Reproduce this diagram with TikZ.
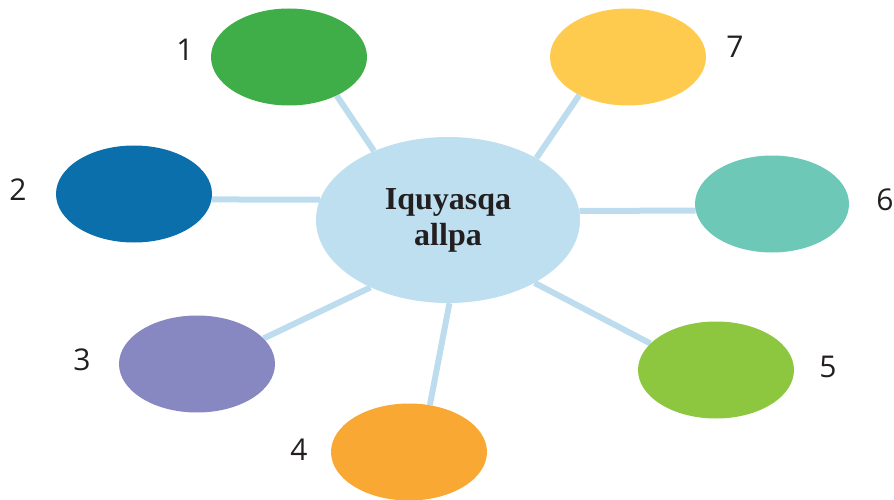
\documentclass[tikz,border=0pt]{standalone}
\usepackage{fontspec}
\setmainfont{Liberation Serif}
\newfontfamily\labelfont{Open Sans}
\usetikzlibrary{shapes.geometric,backgrounds}
\definecolor{cgreen}{HTML}{3FAE49}
\definecolor{cyellow}{HTML}{FFCB4F}
\definecolor{cblue}{HTML}{0A6FAA}
\definecolor{cteal}{HTML}{6EC8B8}
\definecolor{cpurple}{HTML}{8787C2}
\definecolor{clime}{HTML}{8DC63F}
\definecolor{corange}{HTML}{F9A833}
\definecolor{ccenter}{HTML}{BEDFF0}
\definecolor{cline}{HTML}{BDDDEE}
\definecolor{ctext}{HTML}{231F20}
\tikzset{
  petal/.style={ellipse, minimum width=156pt, minimum height=97pt, inner sep=0pt, draw=none},
  hub/.style={ellipse, fill=ccenter, minimum width=264pt, minimum height=166pt, inner sep=0pt, draw=none,
    font=\fontsize{32}{36}\selectfont\bfseries, text=ctext, align=center},
  num/.style={font=\labelfont\fontsize{30}{36}\selectfont, text=ctext, inner sep=0pt},
  link/.style={draw=cline, line width=6pt}
}
\begin{document}
\begin{tikzpicture}[x=1pt,y=-1pt]
\useasboundingbox (0,0) rectangle (894,500);
% nodes
\node[hub] (c) at (448,220) {Iquyasqa\\allpa};
\node[petal, fill=cgreen] (n1) at (289,57) {};
\node[petal, fill=cyellow] (n7) at (628,57) {};
\node[petal, fill=cblue] (n2) at (134,194) {};
\node[petal, fill=cteal, minimum width=154pt] (n6) at (772,204) {};
\node[petal, fill=cpurple] (n3) at (197,364) {};
\node[petal, fill=clime] (n5) at (716,370) {};
\node[petal, fill=corange] (n4) at (409,452) {};
% connectors (behind)
\begin{scope}[on background layer]
  \draw[link] (n1.-39) -- (c.137);
  \draw[link] (n7.-142) -- (c.35.5);
  \draw[link] (n2.-4) -- (c.171);
  \draw[link] (n6.185) -- (c.4.3);
  \draw[link] (n3.21) -- (c.-139);
  \draw[link] (n5.158) -- (c.-36);
  \draw[link] (n4.66) -- (c.-89);
\end{scope}
\node[num] (l1) at (185,50) {1};
\node[num] (l7) at (735,47) {7};
\node[num] (l2) at (18,190) {2};
\node[num] (l6) at (885,200) {6};
\node[num] (l3) at (82,360) {3};
\node[num] (l5) at (828,367) {5};
\node[num] (l4) at (299,450) {4};
\end{tikzpicture}
\end{document}
